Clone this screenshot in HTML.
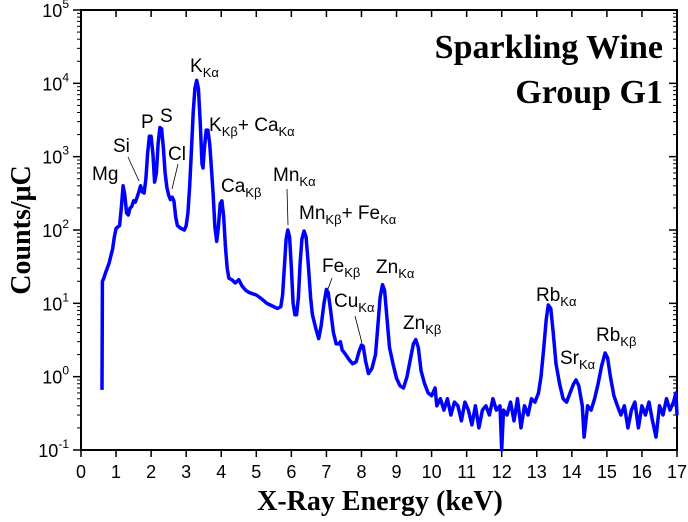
<!DOCTYPE html>
<html><head><meta charset="utf-8"><style>
body{margin:0;background:#fff;}
svg{display:block;}
text{font-family:"Liberation Sans",sans-serif;fill:#000;}
.lbl{font-size:19px;}
.sub{font-size:13px;}
</style></head><body>
<svg id="chart" width="688" height="522" viewBox="0 0 688 522" xmlns="http://www.w3.org/2000/svg">
<g id="axes"></g>
<path id="spectrum" fill="none" stroke="#0000ff" stroke-width="3.5" stroke-linejoin="round"/>
<g>
<text class="lbl" x="92" y="180">Mg</text>
<text class="lbl" x="113" y="152">Si</text>
<line x1="128" y1="157" x2="139" y2="181" stroke="#000" stroke-width="0.8"/>
<text class="lbl" x="141" y="128">P</text>
<text class="lbl" x="160" y="122">S</text>
<text class="lbl" x="168" y="160">Cl</text>
<line x1="178" y1="164" x2="172" y2="189" stroke="#000" stroke-width="0.8"/>
<text class="lbl" x="190" y="72">K<tspan class="sub" dy="5">Kα</tspan></text>
<text class="lbl" x="209" y="131">K<tspan class="sub" dy="5">Kβ</tspan><tspan dy="-5">+ Ca</tspan><tspan class="sub" dy="5">Kα</tspan></text>
<text class="lbl" x="221" y="192">Ca<tspan class="sub" dy="5">Kβ</tspan></text>
<text class="lbl" x="273" y="181">Mn<tspan class="sub" dy="5">Kα</tspan></text>
<line x1="287" y1="189" x2="288" y2="225" stroke="#000" stroke-width="0.8"/>
<text class="lbl" x="299" y="219">Mn<tspan class="sub" dy="5">Kβ</tspan><tspan dy="-5">+ Fe</tspan><tspan class="sub" dy="5">Kα</tspan></text>
<text class="lbl" x="322" y="272">Fe<tspan class="sub" dy="5">Kβ</tspan></text>
<line x1="332" y1="278" x2="328" y2="289" stroke="#000" stroke-width="0.8"/>
<text class="lbl" x="334" y="307">Cu<tspan class="sub" dy="5">Kα</tspan></text>
<line x1="355" y1="316" x2="362" y2="343" stroke="#000" stroke-width="0.8"/>
<text class="lbl" x="376" y="273">Zn<tspan class="sub" dy="5">Kα</tspan></text>
<text class="lbl" x="403" y="329">Zn<tspan class="sub" dy="5">Kβ</tspan></text>
<text class="lbl" x="536" y="301">Rb<tspan class="sub" dy="5">Kα</tspan></text>
<text class="lbl" x="560" y="364">Sr<tspan class="sub" dy="5">Kα</tspan></text>
<text class="lbl" x="596" y="341">Rb<tspan class="sub" dy="5">Kβ</tspan></text>
</g>
<text x="663" y="58" text-anchor="end" style="font-family:'Liberation Serif',serif;font-weight:bold;font-size:34px">Sparkling Wine</text>
<text x="663" y="103" text-anchor="end" style="font-family:'Liberation Serif',serif;font-weight:bold;font-size:34px">Group G1</text>
<text x="380" y="510" text-anchor="middle" style="font-family:'Liberation Serif',serif;font-weight:bold;font-size:28px">X-Ray Energy (keV)</text>
<text transform="translate(30,230) rotate(-90)" text-anchor="middle" style="font-family:'Liberation Serif',serif;font-weight:bold;font-size:28px">Counts/μC</text>
</svg>
<script>
const energies = [0.6,0.61,0.65,0.7,0.8,0.9,0.95,1.0,1.05,1.1,1.15,1.2,1.25,1.3,1.35,1.4,1.45,1.5,1.55,1.6,1.65,1.7,1.75,1.8,1.85,1.9,1.95,2.0,2.05,2.1,2.15,2.2,2.25,2.3,2.35,2.4,2.45,2.5,2.55,2.6,2.65,2.7,2.75,2.85,2.95,3.0,3.05,3.1,3.15,3.2,3.25,3.3,3.35,3.4,3.45,3.48,3.52,3.57,3.62,3.67,3.72,3.77,3.82,3.87,3.92,3.97,4.02,4.07,4.12,4.17,4.22,4.3,4.4,4.5,4.6,4.7,4.8,4.9,5.0,5.1,5.2,5.3,5.4,5.5,5.6,5.7,5.75,5.8,5.85,5.9,5.95,6.0,6.05,6.1,6.15,6.2,6.25,6.3,6.36,6.42,6.48,6.55,6.6,6.7,6.78,6.85,6.93,7.0,7.05,7.12,7.2,7.28,7.35,7.4,7.45,7.55,7.65,7.75,7.85,7.93,8.0,8.05,8.12,8.2,8.3,8.4,8.47,8.53,8.6,8.66,8.73,8.8,8.9,9.0,9.1,9.2,9.3,9.4,9.48,9.55,9.62,9.7,9.8,9.9,10.0,10.1,10.15,10.25,10.35,10.45,10.55,10.65,10.75,10.85,10.95,11.05,11.15,11.25,11.35,11.45,11.55,11.65,11.75,11.85,11.95,12.0,12.05,12.15,12.25,12.35,12.45,12.55,12.65,12.75,12.85,12.95,13.05,13.12,13.2,13.27,13.33,13.4,13.47,13.55,13.65,13.75,13.85,13.95,14.05,14.12,14.2,14.3,14.35,14.45,14.55,14.65,14.75,14.85,14.95,15.02,15.1,15.2,15.3,15.4,15.5,15.6,15.7,15.8,15.9,16.0,16.1,16.2,16.3,16.4,16.5,16.6,16.7,16.8,16.9,16.97,17.0];
const counts = [0.66,20,22,26,35,55,80,105,110,115,200,400,300,170,160,200,210,250,240,280,330,400,330,320,500,1100,1900,1900,1100,450,600,1500,2500,2400,1300,600,380,300,260,280,250,150,115,105,100,115,170,400,1200,4000,8500,11000,8500,3000,800,700,1300,2300,2300,1500,700,300,110,70,110,230,250,150,60,30,22,21,19,21,17,15,14,13.5,13,12,11,10,9.5,9,8.5,9,13,30,75,100,80,30,10,7,7,12,35,75,97,80,35,12,7,4.5,3.3,5,10,15.5,14,8,4,2.8,2.8,3,2.3,2.0,1.7,1.5,1.6,2.2,2.7,2.6,1.6,1.1,1.3,2.0,5,12,18,15,6,2.5,1.5,0.95,0.75,0.7,1.0,1.8,2.8,3.2,2.5,1.2,0.8,0.6,0.55,0.7,0.4,0.5,0.35,0.5,0.3,0.45,0.4,0.25,0.45,0.35,0.22,0.4,0.2,0.35,0.4,0.3,0.5,0.35,0.4,0.1,0.35,0.3,0.45,0.25,0.5,0.2,0.4,0.3,0.5,0.45,0.6,1.0,2.5,6,9.5,8.5,4,1.5,0.8,0.5,0.45,0.6,0.8,0.9,0.75,0.4,0.15,0.4,0.35,0.5,0.8,1.4,2.1,1.8,1.0,0.55,0.4,0.3,0.4,0.2,0.35,0.45,0.2,0.4,0.3,0.45,0.25,0.15,0.4,0.3,0.5,0.35,0.45,0.6,0.3];
const xTicks = [0,1,2,3,4,5,6,7,8,9,10,11,12,13,14,15,16,17];
const yExps = [-1,0,1,2,3,4,5];

const X0=81, X1=677, Y0=450, Y1=10;
const xMin=0, xMax=17, lMin=-1, lMax=5;
function xs(e){return X0+(e-xMin)/(xMax-xMin)*(X1-X0);}
function ys(c){return Y0-(Math.log10(c)-lMin)/(lMax-lMin)*(Y0-Y1);}

let d='';
const n=Math.min(energies.length,counts.length);
for(let i=0;i<n;i++){d+=(i?'L':'M')+xs(energies[i]).toFixed(1)+','+Math.max(Y1,Math.min(Y0,ys(counts[i]))).toFixed(1);}
document.getElementById('spectrum').setAttribute('d',d);

const NS='http://www.w3.org/2000/svg';
const ax=document.getElementById('axes');
function ln(x1,y1,x2,y2,w,name){const l=document.createElementNS(NS,'line');l.setAttribute('x1',x1);l.setAttribute('y1',y1);l.setAttribute('x2',x2);l.setAttribute('y2',y2);l.setAttribute('stroke','#000');l.setAttribute('stroke-width',w);


ax.appendChild(l);}
ln(X0,Y1,X0,Y0+1,2,'y-axis-line');
ln(X1,Y1,X1,Y0+1,2,'right-axis-line');
ln(X0-1,Y0,X1+1,Y0,2,'x-axis-line');
ln(X0-1,Y1,X1+1,Y1,2,'top-axis-line');
xTicks.forEach(t=>{const x=xs(t);ln(x,Y0,x,Y0+7,1.5,'x-tick');ln(x,Y1,x,Y1+7,1.5,'top-tick');
const tx=document.createElementNS(NS,'text');tx.setAttribute('x',x);tx.setAttribute('y',Y0+28);tx.setAttribute('text-anchor','middle');tx.setAttribute('font-size','18');tx.textContent=t;


ax.appendChild(tx);});
yExps.forEach(e=>{const y=ys(Math.pow(10,e));ln(X0-8,y,X0,y,1.5,'y-tick');ln(X1-8,y,X1,y,1.5,'right-tick');
if(e<lMax){for(let m=2;m<=9;m++){const ym=ys(m*Math.pow(10,e));ln(X0-4,ym,X0,ym,1,'y-minor-tick');ln(X1-4,ym,X1,ym,1,'right-minor-tick');}}
const tx=document.createElementNS(NS,'text');tx.setAttribute('x',X0-12);tx.setAttribute('y',y+7);tx.setAttribute('text-anchor','end');tx.setAttribute('font-size','18');
tx.innerHTML='10<tspan font-size="12" dy="-9">'+e+'</tspan>';


ax.appendChild(tx);});
</script>
</body></html>
